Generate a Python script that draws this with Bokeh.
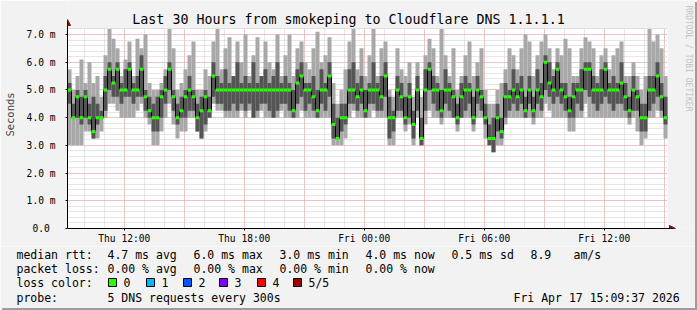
import math
from bokeh.plotting import figure
from bokeh.layouts import column
from bokeh.models import (ColumnDataSource, FixedTicker, Label, Arrow, NormalHead,
                          Range1d, Grid)
from bokeh.embed import file_html
from bokeh.resources import INLINE

# ---------------- data ----------------
start_hour = 9 + 9 / 60 + 37 / 3600      # Thu 09:09:37, hours since Thu 00:00
span_hours = 30
step_hours = 0.2                          # one column = 12 minutes

median_ms = [
    5.0, 4.0, 4.75, 4.0, 4.75, 4.0, 3.5, 4.0, 4.0, 5.0, 5.75, 5.25, 5.75, 5.0, 5.0,
    5.75, 5.0, 5.0, 5.75, 4.75, 4.25, 4.0, 4.0, 4.75, 5.0, 5.75, 4.75, 4.0, 4.25, 4.75,
    5.0, 4.75, 4.0, 4.25, 4.75, 4.25, 5.5, 5.0, 5.0, 5.0, 5.0, 5.0, 5.0, 5.0, 5.0,
    5.0, 5.0, 5.0, 5.0, 5.0, 5.0, 5.0, 5.0, 5.0, 5.0, 5.0, 4.25, 5.25, 5.5, 5.0,
    5.0, 4.75, 4.25, 5.0, 5.0, 5.5, 3.75, 3.25, 4.0, 4.0, 5.0, 5.0, 4.75, 5.0, 4.25,
    5.0, 5.0, 5.0, 4.75, 5.5, 4.0, 4.0, 5.0, 4.75, 4.0, 4.75, 3.75, 5.0, 3.25, 5.0,
    5.75, 5.0, 5.0, 4.25, 5.0, 5.0, 4.75, 4.0, 4.75, 5.0, 5.0, 4.0, 5.0, 4.75, 4.0,
    3.25, 3.25, 4.0, 3.5, 4.75, 4.75, 5.0, 4.75, 5.0, 4.25, 5.0, 4.25, 5.0, 4.75, 6.0,
    5.25, 5.0, 5.75, 5.0, 4.75, 4.25, 4.75, 5.0, 5.0, 5.75, 5.75, 5.0, 5.0, 5.0, 5.75,
    5.0, 5.0, 5.0, 5.25, 4.75, 4.25, 5.0, 4.75, 4.0, 4.0, 5.0, 5.0, 5.5, 4.75, 4.0,
]
ping_min = [
    3.0, 3.0, 3.0, 3.0, 3.5, 3.5, 3.25, 3.25, 3.5, 4.0, 4.5, 4.5, 4.25, 4.0, 4.0,
    4.0, 4.0, 4.25, 4.5, 4.0, 3.75, 3.0, 3.0, 3.5, 4.0, 4.5, 3.75, 3.25, 3.5, 3.5,
    4.0, 4.0, 3.5, 3.25, 3.5, 4.0, 4.5, 4.25, 4.25, 4.0, 4.0, 4.0, 4.0, 4.25, 4.0,
    4.25, 4.0, 4.0, 4.25, 4.0, 4.0, 4.0, 4.0, 4.25, 4.0, 4.0, 4.0, 4.0, 4.25, 4.0,
    4.0, 4.0, 4.0, 4.0, 4.0, 4.0, 3.0, 3.0, 3.0, 3.25, 4.0, 4.25, 4.0, 4.0, 4.0,
    4.0, 4.25, 4.0, 4.0, 4.0, 3.0, 3.0, 4.0, 4.0, 3.5, 3.75, 3.0, 4.0, 3.0, 3.75,
    4.25, 4.0, 4.0, 3.75, 4.0, 4.0, 4.0, 3.5, 4.0, 4.0, 4.0, 3.5, 4.0, 4.0, 3.25,
    3.0, 2.75, 3.0, 3.0, 3.75, 4.0, 4.0, 4.0, 4.0, 4.0, 4.0, 3.75, 4.0, 4.0, 4.5,
    4.25, 4.0, 4.0, 4.0, 4.0, 3.5, 3.5, 4.0, 4.0, 4.5, 4.0, 4.0, 4.0, 4.0, 4.0,
    4.0, 4.0, 4.0, 4.0, 4.0, 3.75, 4.0, 3.5, 3.0, 3.25, 4.0, 4.0, 4.25, 4.0, 3.25,
]
ping_q1 = [
    4.5, 4.0, 4.0, 3.75, 4.0, 3.75, 3.25, 3.75, 4.0, 4.25, 5.0, 4.75, 4.75, 4.5, 4.75,
    4.75, 4.5, 4.75, 4.75, 4.25, 4.0, 3.5, 3.5, 4.0, 4.5, 5.0, 4.25, 3.75, 4.0, 4.0,
    4.25, 4.25, 3.5, 3.25, 3.75, 4.0, 4.75, 4.5, 4.5, 4.25, 4.25, 4.5, 4.25, 4.5, 4.25,
    4.5, 4.0, 4.25, 4.5, 4.5, 4.25, 4.0, 4.25, 4.5, 4.5, 4.25, 4.0, 4.5, 4.75, 4.25,
    4.5, 4.25, 4.0, 4.5, 4.25, 4.75, 3.25, 3.25, 3.5, 3.75, 4.5, 4.5, 4.25, 4.5, 4.0,
    4.5, 4.5, 4.25, 4.25, 4.75, 3.25, 3.5, 4.25, 4.25, 3.75, 4.0, 3.25, 4.25, 3.0, 4.25,
    5.0, 4.5, 4.25, 4.0, 4.5, 4.25, 4.0, 3.75, 4.0, 4.25, 4.5, 3.75, 4.5, 4.25, 3.75,
    3.0, 2.75, 3.5, 3.25, 4.0, 4.25, 4.5, 4.25, 4.5, 4.0, 4.5, 4.0, 4.5, 4.25, 5.0,
    4.75, 4.5, 4.75, 4.5, 4.25, 4.0, 4.0, 4.5, 4.25, 5.0, 4.75, 4.5, 4.25, 4.5, 4.75,
    4.5, 4.25, 4.5, 4.5, 4.25, 4.0, 4.25, 4.25, 3.5, 3.5, 4.25, 4.5, 4.75, 4.25, 3.75,
]
ping_q3 = [
    5.25, 4.5, 5.0, 4.75, 5.0, 4.5, 4.75, 4.5, 4.25, 5.5, 6.0, 5.5, 6.0, 5.25, 5.75,
    6.0, 5.25, 5.5, 6.25, 5.0, 4.75, 4.5, 4.75, 5.0, 5.5, 6.0, 5.0, 4.5, 4.75, 5.0,
    5.5, 5.0, 4.5, 4.75, 5.0, 4.75, 6.0, 5.5, 5.25, 5.75, 5.25, 5.5, 6.0, 5.25, 5.5,
    5.25, 6.0, 5.25, 5.5, 5.75, 5.25, 5.5, 6.0, 5.25, 5.5, 5.25, 5.0, 5.75, 6.0, 5.25,
    5.25, 5.5, 5.0, 5.75, 5.25, 6.0, 4.5, 4.0, 4.5, 4.5, 5.75, 6.0, 5.25, 5.5, 5.0,
    5.25, 6.0, 5.25, 5.5, 6.0, 4.75, 4.25, 5.5, 5.25, 4.75, 5.25, 4.25, 5.5, 4.0, 5.75,
    6.0, 5.5, 5.25, 5.0, 5.75, 5.25, 5.0, 4.5, 5.25, 5.5, 5.25, 4.75, 5.5, 5.0, 4.5,
    3.75, 4.0, 4.5, 4.0, 5.25, 5.0, 5.75, 5.25, 5.5, 4.75, 5.5, 4.75, 5.75, 5.25, 6.25,
    6.0, 5.5, 6.0, 5.25, 5.25, 4.75, 5.25, 5.25, 5.75, 6.0, 6.0, 5.5, 5.25, 5.75, 6.0,
    5.25, 5.5, 5.25, 6.0, 5.25, 4.75, 5.5, 5.0, 4.5, 4.5, 5.5, 5.5, 6.0, 5.25, 4.75,
]
ping_max = [
    5.75, 5.0, 5.5, 6.1, 5.25, 6.0, 5.25, 5.5, 4.75, 6.25, 7.2, 6.85, 6.5, 5.5, 6.1,
    6.75, 5.5, 6.85, 6.5, 7.0, 5.25, 5.0, 5.0, 5.25, 5.75, 7.2, 6.5, 5.0, 5.25, 5.75,
    6.25, 6.75, 5.0, 5.0, 5.75, 5.5, 6.75, 7.2, 5.75, 6.5, 6.9, 5.5, 6.75, 6.0, 7.0,
    5.5, 6.25, 6.9, 5.5, 6.75, 6.0, 5.75, 7.0, 5.5, 6.25, 7.0, 5.5, 6.5, 6.75, 6.0,
    5.75, 6.5, 7.1, 6.0, 6.25, 6.9, 5.25, 4.5, 5.0, 5.75, 6.75, 7.2, 5.75, 6.5, 5.5,
    6.25, 7.2, 5.5, 6.5, 6.75, 5.0, 4.75, 6.5, 5.75, 5.5, 6.0, 4.75, 6.0, 4.75, 6.25,
    6.85, 6.5, 5.5, 7.2, 6.25, 5.5, 6.5, 5.0, 5.5, 6.25, 6.75, 5.5, 6.0, 6.5, 5.0,
    4.5, 4.5, 5.0, 5.25, 5.75, 6.5, 6.25, 5.75, 6.5, 7.0, 6.75, 5.5, 6.25, 6.75, 7.0,
    6.5, 5.75, 6.5, 6.25, 6.85, 6.5, 5.5, 5.5, 6.5, 6.9, 6.75, 6.5, 5.5, 6.25, 6.5,
    5.75, 6.25, 6.5, 6.75, 5.5, 5.5, 6.0, 5.5, 5.0, 5.5, 7.2, 6.75, 7.0, 6.5, 5.5,
]

x_tick_hours = [12, 18, 24, 30, 36]
x_tick_labels = ["Thu 12:00", "Thu 18:00", "Fri 00:00", "Fri 06:00", "Fri 12:00"]
y_tick_values = [0, 1, 2, 3, 4, 5, 6, 7]
y_tick_labels = ["0.0\u00a0", "1.0 m", "2.0 m", "3.0 m", "4.0 m", "5.0 m", "6.0 m", "7.0 m"]
y_top_ms = 7.2

title_text = "Last 30 Hours from smokeping to Cloudflare DNS 1.1.1.1"
watermark_text = "RRDTOOL / TOBI OETIKER"
rtt_items = ["median rtt:", "4.7 ms avg", "6.0 ms max", "3.0 ms min", "4.0 ms now",
             "0.5 ms sd", "8.9", "am/s"]
loss_items = ["packet loss:", "0.00 % avg", "0.00 % max", "0.00 % min", "0.00 % now"]
loss_color_labels = ["0", "1", "2", "3", "4", "5/5"]
loss_color_values = ["#26ff00", "#00b8ff", "#0059ff", "#7e00ff", "#ff0000", "#a10000"]
probe_items = ["probe:", "5 DNS requests every 300s"]
stamp_text = "Fri Apr 17 15:09:37 2026"

# ---------------- layout / style (pixels) ----------------
FONT = "DejaVu Sans Mono"
W, H_TOP, H_BOT = 695, 246, 62
PX_PER_HOUR = 20.0
PX_PER_MS = 27.714
FRAME_L, FRAME_B = 67, 228
LIGHT = "#a8a8a8"
DARK = "#545454"
GREEN = "#26ff00"
ARROW = "#7f1010"
BG = "#f2f2f2"


def X(px):
    return start_hour + (px - FRAME_L) / PX_PER_HOUR


def Y(py):
    return (FRAME_B - py) / PX_PER_MS


n = len(median_ms)
left = [start_hour + i * step_hours for i in range(n)]
right = [l + step_hours for l in left]
half = 1.5 / PX_PER_MS
src = ColumnDataSource(dict(
    left=left, right=right, med=median_ms, pmin=ping_min, q1=ping_q1, q3=ping_q3,
    pmax=ping_max,
    glo=[m - half for m in median_ms], ghi=[m + half for m in median_ms],
))

p = figure(width=W, height=H_TOP, output_backend="svg", toolbar_location=None,
           x_range=Range1d(X(FRAME_L), X(W)), y_range=Range1d(0, Y(0)),
           min_border_left=FRAME_L, min_border_right=0,
           min_border_top=0, min_border_bottom=H_TOP - FRAME_B,
           background_fill_color=BG, border_fill_color=BG,
           outline_line_color=None)

x_end = start_hour + span_hours
# white plotting area
p.quad(left=[start_hour], right=[x_end], bottom=[0], top=[y_top_ms],
       fill_color="white", line_color=None, level="underlay")

# grids, limited to the plotting area
grid_x_major = list(range(12, 40, 3))
grid_x_minor = list(range(10, 40))
grid_y_minor = [round(0.2 * i, 1) for i in range(37)]
p.xgrid.visible = False
p.ygrid.visible = False
has_cross = "cross_bounds" in Grid.properties()
gx = Grid(dimension=0, ticker=FixedTicker(ticks=grid_x_major, minor_ticks=grid_x_minor),
          bounds=(start_hour, x_end))
gy = Grid(dimension=1, ticker=FixedTicker(ticks=y_tick_values, minor_ticks=grid_y_minor),
          bounds=(0, y_top_ms))
for g in (gx, gy):
    g.grid_line_color = "#ff7070"
    g.grid_line_alpha = 0.55
    g.grid_line_dash = "1 1"
    g.minor_grid_line_color = "#cdcdcd"
    g.minor_grid_line_dash = "1 1"
    g.level = "underlay"
if has_cross:
    gx.cross_bounds = (0, y_top_ms)
    gy.cross_bounds = (start_hour, x_end)
    p.add_layout(gx)
    p.add_layout(gy)
else:
    p.segment(x0=grid_x_minor, x1=grid_x_minor, y0=[0] * len(grid_x_minor),
              y1=[y_top_ms] * len(grid_x_minor), line_color="#cdcdcd", line_dash="1 1")
    p.segment(x0=[start_hour] * len(grid_y_minor), x1=[x_end] * len(grid_y_minor),
              y0=grid_y_minor, y1=grid_y_minor, line_color="#cdcdcd", line_dash="1 1")
    p.segment(x0=grid_x_major, x1=grid_x_major, y0=[0] * len(grid_x_major),
              y1=[y_top_ms] * len(grid_x_major), line_color="#ff7070", line_alpha=0.55,
              line_dash="1 1")
    p.segment(x0=[start_hour] * 8, x1=[x_end] * 8, y0=y_tick_values, y1=y_tick_values,
              line_color="#ff7070", line_alpha=0.55, line_dash="1 1")

# axes
p.xaxis.ticker = FixedTicker(ticks=x_tick_hours)
p.xaxis.major_label_overrides = dict(zip(x_tick_hours, x_tick_labels))
p.xaxis.bounds = (start_hour, X(673))
p.yaxis.ticker = FixedTicker(ticks=y_tick_values)
p.yaxis.major_label_overrides = dict(zip(y_tick_values, y_tick_labels))
p.yaxis.bounds = (0, Y(21))
for ax in (p.xaxis[0], p.yaxis[0]):
    ax.axis_line_color = "black"
    ax.major_tick_line_color = "black"
    ax.major_tick_in = 0
    ax.major_tick_out = 2
    ax.minor_tick_line_color = None
    ax.major_label_text_font = FONT
    ax.major_label_text_font_size = "9.6px"
    ax.major_label_text_color = "black"
p.xaxis.major_label_standoff = 2
p.yaxis.major_label_standoff = 10
p.yaxis.axis_label = "Seconds"
p.yaxis.axis_label_text_font = FONT
p.yaxis.axis_label_text_font_size = "10.5px"
p.yaxis.axis_label_text_font_style = "normal"
p.yaxis.axis_label_standoff = 8

# smoke + median
p.quad(left="left", right="right", bottom="pmin", top="pmax", source=src,
       fill_color=LIGHT, line_color=None)
p.quad(left="left", right="right", bottom="q1", top="q3", source=src,
       fill_color=DARK, line_color=None)
p.step(x=left + [right[-1]], y=median_ms + [median_ms[-1]], mode="after",
       line_color="black", line_width=1)
p.quad(left="left", right="right", bottom="glo", top="ghi", source=src,
       fill_color=GREEN, line_color=None)

# axis arrow heads
p.add_layout(Arrow(x_start=start_hour, y_start=Y(24), x_end=start_hour, y_end=Y(19),
                   line_color="black", line_width=1,
                   end=NormalHead(size=6, fill_color=ARROW, line_color=ARROW)))
p.add_layout(Arrow(x_start=X(668), y_start=0, x_end=X(675), y_end=0,
                   line_color="black", line_width=1,
                   end=NormalHead(size=6, fill_color=ARROW, line_color=ARROW)))

p.add_layout(Label(x=X(348), y=Y(19), text=title_text, text_font=FONT,
                   text_font_size="13.3px", text_align="center",
                   text_baseline="middle", text_color="black"))
p.add_layout(Label(x=X(688), y=Y(5), text=watermark_text, text_font=FONT,
                   text_font_size="8px", text_align="left", text_baseline="middle",
                   text_color="#c2c2c2", angle=-math.pi / 2))

# ---------------- legend strip ----------------
q = figure(width=W, height=H_BOT, output_backend="svg", toolbar_location=None,
           x_range=Range1d(0, W), y_range=Range1d(H_TOP + H_BOT, H_TOP),
           x_axis_location=None, y_axis_location=None,
           min_border_left=0, min_border_right=0, min_border_top=0, min_border_bottom=0,
           background_fill_color=BG, border_fill_color=BG, outline_line_color=None)
q.xgrid.visible = False
q.ygrid.visible = False
for fig in (p, q):
    if "frame_align" in fig.properties():
        fig.frame_align = False


def text(fig, txt, px, py, size="11.5px", align="left"):
    fig.add_layout(Label(x=px, y=py, text=txt, text_font=FONT, text_font_size=size,
                         text_align=align, text_baseline="middle", text_color="black"))


rtt_x = [16, 107, 193, 279, 365, 451, 530, 573]
loss_x = [16, 107, 193, 279, 365]
box_x = [108, 146, 183, 219, 257, 293]
row_y = [254, 268, 282, 297]
for t, x in zip(rtt_items, rtt_x):
    text(q, t, x, row_y[0])
for t, x in zip(loss_items, loss_x):
    text(q, t, x, row_y[1])
text(q, "loss color:", 16, row_y[2])
q.quad(left=box_x, right=[b + 8 for b in box_x], top=[row_y[2] - 4] * 6,
       bottom=[row_y[2] + 4] * 6, fill_color=loss_color_values, line_color="black",
       line_width=1)
for lab, bx in zip(loss_color_labels, box_x):
    text(q, lab, bx + 15, row_y[2])
text(q, probe_items[0], 16, row_y[3])
text(q, probe_items[1], 107, row_y[3])
text(q, stamp_text, 513, row_y[3])

layout = column(p, q, spacing=0, styles={"box-shadow": "2px 2px 0 0 #9c9c9c"})
open("out.html", "w").write(file_html(layout, INLINE))
